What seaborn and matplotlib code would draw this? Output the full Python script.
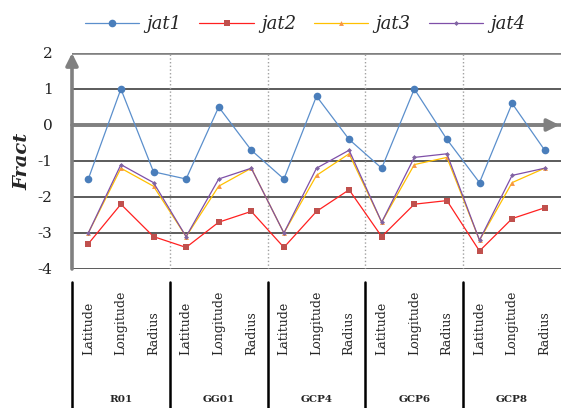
import pandas as pd
import matplotlib.pyplot as plt
import matplotlib.transforms as mtransforms
import seaborn as sns


groups = ['R01', 'GG01', 'GCP4', 'GCP6', 'GCP8']
components = ['Latitude', 'Longitude', 'Radius']

jat1 = [-1.5, 1.0, -1.3, -1.5, 0.5, -0.7, -1.5, 0.8, -0.4, -1.2, 1.0, -0.4, -1.6, 0.6, -0.7]
jat2 = [-3.3, -2.2, -3.1, -3.4, -2.7, -2.4, -3.4, -2.4, -1.8, -3.1, -2.2, -2.1, -3.5, -2.6, -2.3]
jat3 = [-3.0, -1.2, -1.7, -3.1, -1.7, -1.2, -3.0, -1.4, -0.8, -2.7, -1.1, -0.9, -3.2, -1.6, -1.2]
jat4 = [-3.0, -1.1, -1.6, -3.1, -1.5, -1.2, -3.0, -1.2, -0.7, -2.7, -0.9, -0.8, -3.2, -1.4, -1.2]

series = {'jat1': jat1, 'jat2': jat2, 'jat3': jat3, 'jat4': jat4}
line_colors = {'jat1': '#5B8FCC', 'jat2': '#FF2020', 'jat3': '#FFC000', 'jat4': '#7F4FA8'}
marker_colors = {'jat1': '#4A7EBB', 'jat2': '#C0504D', 'jat3': '#F79646', 'jat4': '#8064A2'}
markers = {'jat1': 'o', 'jat2': 's', 'jat3': '^', 'jat4': 'D'}
msizes = {'jat1': 5.5, 'jat2': 4.5, 'jat3': 3.5, 'jat4': 2.5}

rows = []
for name, vals in series.items():
    for i, v in enumerate(vals):
        rows.append({'pos': i, 'value': v, 'series': name})
df = pd.DataFrame(rows)

sns.set_style('white')
plt.rcParams['font.family'] = ['DejaVu Serif']
plt.rcParams['axes.unicode_minus'] = False

fig = plt.figure(figsize=(5.61, 4.08), dpi=100)
ax = fig.add_axes([72 / 561, 1 - 269 / 408, 489 / 561, 216 / 408])

sns.lineplot(data=df, x='pos', y='value', hue='series', style='series',
             markers=markers, dashes=False, palette=line_colors, legend=False,
             ax=ax, linewidth=0.9, markeredgewidth=0)

handles = []
for line, name in zip(ax.lines[:4], series.keys()):
    line.set_markerfacecolor(marker_colors[name])
    line.set_markeredgecolor(marker_colors[name])
    line.set_markersize(msizes[name])
    line.set_zorder(5)
    handles.append(line)

ax.set_xlim(-0.5, 14.5)
ax.set_ylim(-4, 2)
ax.set_yticks(range(-4, 3))
ax.set_xticks([])
ax.set_xlabel('')
ax.set_ylabel('Fract', fontsize=14, fontweight='bold', fontstyle='italic')
ax.yaxis.set_label_coords(-0.082, 0.5)
ax.tick_params(axis='y', length=0, pad=14, labelsize=11, colors='#222222')
for s in ax.spines.values():
    s.set_visible(False)

for y in range(-4, 3):
    if y in (0, 2):
        ax.axhline(y, color='#808080', lw=2.6, zorder=1)
    else:
        ax.axhline(y, color='#404040', lw=1.2, zorder=1)
for b in [2.5, 5.5, 8.5, 11.5]:
    ax.axvline(b, color='#A0A0A0', lw=1, ls=':', zorder=1)

ax.annotate('', xy=(14.45, 0), xytext=(-0.5, 0),
            arrowprops=dict(arrowstyle='-|>', color='#808080', lw=2.6,
                            mutation_scale=18, shrinkA=0, shrinkB=0))
ax.annotate('', xy=(-0.5, 2.0), xytext=(-0.5, -4),
            arrowprops=dict(arrowstyle='-|>', color='#808080', lw=2.6,
                            mutation_scale=18, shrinkA=0, shrinkB=0),
            annotation_clip=False)

# category table under the plot
fig_y = lambda px: (1 - px / 408)
btrans = mtransforms.blended_transform_factory(ax.transData, fig.transFigure)
for g, grp in enumerate(groups):
    for c, comp in enumerate(components):
        ax.text(g * 3 + c, fig_y(355), comp, rotation=90, ha='center', va='bottom',
                fontsize=9, transform=btrans, clip_on=False)
    ax.text(g * 3 + 1, fig_y(400), grp, ha='center', va='center', fontsize=7.5,
            fontweight='bold', transform=btrans, clip_on=False)
    ax.plot([g * 3 - 0.5, g * 3 - 0.5], [fig_y(282), 0], color='black', lw=1.8,
            transform=btrans, clip_on=False)

fig.legend(handles=handles, labels=list(series.keys()), loc='center', ncol=4,
           bbox_to_anchor=(305 / 561, 1 - 24 / 408), frameon=False,
           prop={'style': 'italic', 'size': 13}, handlelength=3.0,
           columnspacing=1.0, handletextpad=0.4)

fig.savefig('out.png', dpi=100)
